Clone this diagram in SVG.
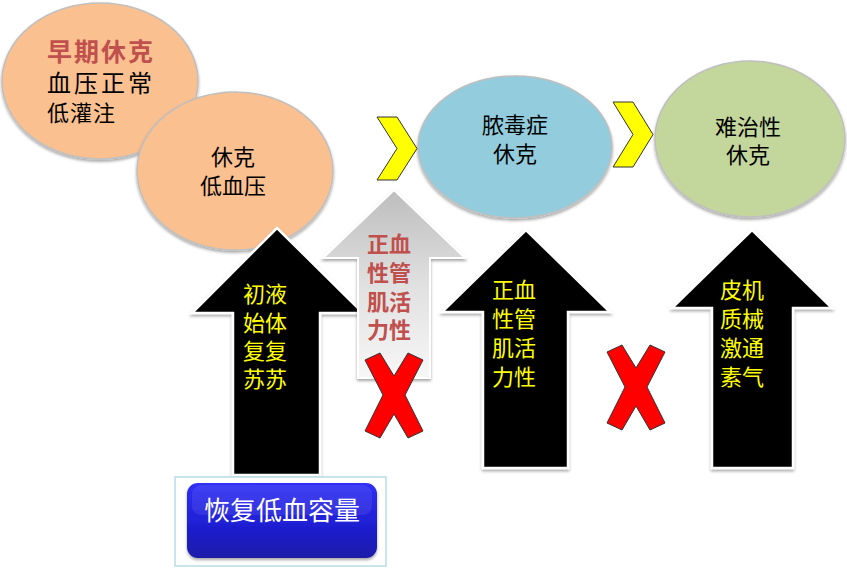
<svg xmlns="http://www.w3.org/2000/svg" width="847" height="568" viewBox="0 0 847 568">
<defs>
<filter id="sh" x="-10%" y="-10%" width="120%" height="125%">
<feDropShadow dx="0" dy="2" stdDeviation="1.5" flood-color="#000" flood-opacity="0.35"/>
</filter>
<linearGradient id="grayArrow" x1="0" y1="0" x2="0" y2="1">
<stop offset="0" stop-color="#bdbdbd"/>
<stop offset="0.5" stop-color="#e0e0e0"/>
<stop offset="1" stop-color="#f7f7f7"/>
</linearGradient>
<linearGradient id="btn" x1="0" y1="0" x2="0" y2="1">
<stop offset="0" stop-color="#3030f5"/>
<stop offset="0.5" stop-color="#2020d8"/>
<stop offset="1" stop-color="#1a1aa8"/>
</linearGradient>
</defs>
<style>
text{font-family:"Noto Sans CJK SC","Noto Sans",sans-serif;}
.ell{stroke:#bfbfbf;stroke-width:1.5;filter:url(#sh);}
.blk{fill:#000;stroke:#fff;stroke-width:2.5;filter:url(#sh);}
.yt{fill:#ffff00;font-size:22px;}
.bt{fill:#000;font-size:22px;text-anchor:middle;}
.rt{fill:#c0504d;font-size:22px;font-weight:bold;}
.chev{fill:#ffff00;stroke:#333;stroke-width:1;}
.x{fill:#ff0000;stroke:#333;stroke-width:1;}
</style>

<g id="node-early">
<ellipse class="ell" cx="100" cy="81" rx="98" ry="78" fill="#fac090"/>
<text x="47" y="61" font-size="25" font-weight="bold" fill="#c0504d" letter-spacing="2">早期休克</text>
<text x="47" y="92" font-size="24" fill="#000" letter-spacing="3">血压正常</text>
<text x="47" y="121" font-size="22" fill="#000" letter-spacing="1">低灌注</text>
</g>

<g id="node-hypotension">
<ellipse class="ell" cx="235" cy="171" rx="98" ry="79" fill="#fac090"/>
<text class="bt" x="233" y="165">休克</text>
<text class="bt" x="233" y="194">低血压</text>
</g>

<g id="node-septic">
<ellipse class="ell" cx="515" cy="147" rx="97" ry="71" fill="#93cddd"/>
<text class="bt" x="515" y="133">脓毒症</text>
<text class="bt" x="515" y="162">休克</text>
</g>

<g id="node-refractory">
<ellipse class="ell" cx="750" cy="139" rx="95" ry="78" fill="#c3d69b"/>
<text class="bt" x="748" y="135">难治性</text>
<text class="bt" x="748" y="163">休克</text>
</g>

<g id="connectors">
<polygon class="chev" points="377,117 397,117 417,148.5 397,180 377,180 397,148.5"/>
<polygon class="chev" points="613,102 633,102 653,134.5 633,167 613,167 633,134.5"/>
</g>

<g id="arrow-resuscitation">
<polygon class="blk" points="277,228 363,313 320,313 320,475 233,475 233,313 192,313"/>
<text class="yt" x="243" y="302">初液</text>
<text class="yt" x="243" y="331">始体</text>
<text class="yt" x="243" y="359">复复</text>
<text class="yt" x="243" y="387">苏苏</text>
</g>

<g id="arrow-vasoactive-gray">
<polygon points="394,190 465,258 430,258 430,378 358,378 358,258 323,258" fill="url(#grayArrow)" stroke="#fff" stroke-width="2" filter="url(#sh)"/>
<text class="rt" x="367" y="252">正血</text>
<text class="rt" x="367" y="281">性管</text>
<text class="rt" x="367" y="310">肌活</text>
<text class="rt" x="367" y="338">力性</text>
</g>

<g id="cross-1">
<polygon class="x" points="365,360 380,353 394,376 408,353 423,360 405,395 423,431 408,438 394,414 380,438 365,431 383,395"/>
</g>

<g id="arrow-vasoactive">
<polygon class="blk" points="526,230 610,312 568,312 568,468 483,468 483,312 442,312"/>
<text class="yt" x="492" y="298">正血</text>
<text class="yt" x="492" y="327">性管</text>
<text class="yt" x="492" y="356">肌活</text>
<text class="yt" x="492" y="385">力性</text>
</g>

<g id="cross-2">
<polygon class="x" points="607,352 622,345 636,368 650,345 665,352 647,387 665,423 650,430 636,406 622,430 607,423 625,387"/>
</g>

<g id="arrow-steroid">
<polygon class="blk" points="752,230 832,308 793,308 793,468 712,468 712,308 672,308"/>
<text class="yt" x="720" y="298">皮机</text>
<text class="yt" x="720" y="327">质械</text>
<text class="yt" x="720" y="356">激通</text>
<text class="yt" x="720" y="385">素气</text>
</g>

<g id="node-restore">
<rect x="175" y="477" width="211" height="89" fill="#fff" stroke="#b7dde8" stroke-width="1.5"/>
<rect x="187" y="483" width="190" height="75" rx="11" fill="url(#btn)" filter="url(#sh)"/>
<rect x="192" y="485" width="180" height="30" rx="9" fill="#ffffff" opacity="0.08"/>
<text x="282" y="520" font-size="26" fill="#fff" text-anchor="middle">恢复低血容量</text>
</g>
</svg>
